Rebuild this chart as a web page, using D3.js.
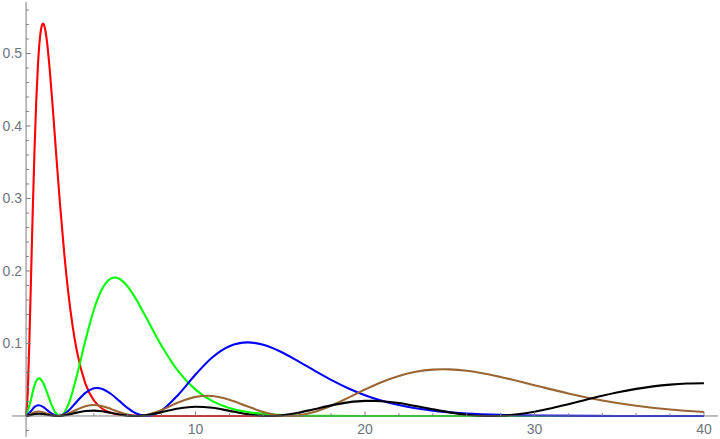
<!DOCTYPE html>
<html><head><meta charset="utf-8">
<script src="https://cdn.jsdelivr.net/npm/d3@7"></script>
<style>body{margin:0;background:#fff}svg{display:block}</style>
</head><body>
<svg id="c" width="720" height="439"></svg>
<script>
// Series (radius r, probability density P)
const redR = [0,0.1,0.2,0.3,0.4,0.5,0.6,0.7,0.8,0.9,1.0,1.1,1.2,1.4,1.6,1.8,2.0,2.25,2.5,2.75,3,3.5,4,4.5,5,6,7,8,10,20,30,40];
const redP = [0,0.0327,0.1073,0.1976,0.2876,0.3679,0.4337,0.4833,0.5168,0.5356,0.5413,0.5363,0.5225,0.4767,0.4174,0.3541,0.2931,0.2250,0.1684,0.1236,0.0892,0.0447,0.0215,0.0100,0.00454,0.00088,0.00016,0.00003,0,0,0,0];

const greenR = [0,0.25,0.5,0.764,1,1.25,1.5,1.75,2,2.5,3,3.5,4,4.5,5,5.236,5.5,6,6.5,7,8,9,10,11,12,13,14,16,18,20,30,40];
const greenP = [0,0.01864,0.04265,0.05193,0.04599,0.03148,0.01569,0.00416,0,0.01603,0.05601,0.10404,0.14653,0.17575,0.1895,0.19098,0.1893,0.17847,0.16078,0.13963,0.09661,0.06123,0.03632,0.02046,0.01106,0.00578,0.00293,0.00071,0.00016,0.00003,0,0];

const blueR = [0,0.25,0.5,0.74,1,1.25,1.5,1.75,1.902,2,2.5,3,3.5,4,4.19,4.5,5,5.5,6,6.5,7.098,7.5,8,9,10,11,12,13.07,14,15,16,17,18,19,20,22,24,26,28,30,35,40];
const blueP = [0,0.005504,0.012459,0.014834,0.012625,0.008024,0.003406,0.000512,0,0.000214,0.007257,0.02005,0.031926,0.038181,0.038683,0.03734,0.03063,0.020781,0.010854,0.003409,0,0.00156,0.007598,0.029745,0.057129,0.080979,0.096215,0.10151,0.098219,0.08895,0.076398,0.062834,0.049842,0.038335,0.028712,0.015067,0.007351,0.003382,0.001483,0.000624,0.00006,0];

const brownR = [0,0.25,0.5,0.75,1,1.25,1.5,1.75,1.871,2,2.5,3,3.5,4,4.5,5,5.5,6,6.611,7,8,9,10,10.74,11,12,13,14,15,15.518,16,17,18,19,20,21,22,23,24,24.6,25,26,27,28,30,32,34,36,38,40];
const brownP = [0,0.002319,0.00523,0.006177,0.005184,0.003206,0.001277,0.000143,0,0.00016,0.003433,0.008856,0.013375,0.015037,0.01352,0.009773,0.005345,0.00175,0,0.000725,0.008141,0.018797,0.026393,0.02787,0.027467,0.022309,0.013802,0.005605,0.000686,0,0.000596,0.005412,0.014097,0.02502,0.036446,0.046881,0.05526,0.060993,0.063924,0.064399,0.064229,0.062301,0.058645,0.053788,0.042374,0.031057,0.021463,0.014124,0.008917,0.005432];

const blackR = [0,0.25,0.5,0.75,1,1.25,1.5,1.75,1.86,2,2.5,3,3.5,4,4.5,5,5.5,6,6.43,7,8,9,10,11,12,13,14,14.3,15,16,17,18,19,20,20.5,21,22,23,24,25,26,27,27.37,28,29,30,31,32,33,34,35,36,37,38,39,40];
const blackP = [0,0.001187,0.002672,0.003144,0.002621,0.0016,0.000618,0.000059,0,0.000101,0.001844,0.004618,0.006805,0.007428,0.006405,0.004331,0.002086,0.000476,0,0.000834,0.005322,0.010426,0.012764,0.011232,0.007067,0.002655,0.000172,0,0.000714,0.004113,0.009251,0.014594,0.018746,0.020782,0.020868,0.020353,0.01788,0.013671,0.009216,0.004943,0.00174,0.000138,0,0.000289,0.002368,0.005953,0.010737,0.016271,0.022091,0.027775,0.032962,0.037383,0.040858,0.0433,0.044694,0.045094];

const seriesNames = ["red","green","blue","brown","black"];
const seriesColors = ["#ff0000","#00ff00","#0000ff","#996633","#000000"];
const seriesR = [redR, greenR, blueR, brownR, blackR];
const seriesP = [redP, greenP, blueP, brownP, blackP];

const xTickLabels = [10,20,30,40];
const yTickLabels = [0.1,0.2,0.3,0.4,0.5];

const svg = d3.select("#c");
const x = d3.scaleLinear().domain([-0.83, 40.83]).range([12, 718]);
const y = d3.scaleLinear().domain([-0.029, 0.571]).range([437, 2]);
const axisColor = "#7d7d7d";
const labelColor = "#6f7480";
const font = "'Liberation Sans', Arial, sans-serif";

// curves
const line = d3.line().x(d => x(d[0])).y(d => y(d[1])).curve(d3.curveMonotoneX);
const gLines = svg.append("g");
seriesNames.forEach((n, i) => {
  const pts = seriesR[i].map((r, j) => [r, seriesP[i][j]]);
  gLines.append("path").attr("d", line(pts)).attr("fill", "none")
    .attr("stroke", seriesColors[i]).attr("stroke-width", 2.1)
    .attr("stroke-linejoin", "round");
});

// axes
const ax = svg.append("g");
ax.append("line").attr("x1", 12).attr("x2", 718).attr("y1", y(0)).attr("y2", y(0))
  .attr("stroke", axisColor).attr("stroke-width", 1);
ax.append("line").attr("x1", x(0)).attr("x2", x(0)).attr("y1", 2).attr("y2", 437)
  .attr("stroke", axisColor).attr("stroke-width", 1);

// x ticks
const xMinor = d3.range(2, 41, 2);
xMinor.forEach(v => {
  const major = v % 10 === 0;
  ax.append("line").attr("x1", x(v)).attr("x2", x(v))
    .attr("y1", y(0)).attr("y2", y(0) - (major ? 4.5 : 2.8))
    .attr("stroke", axisColor).attr("stroke-width", 1);
});
xTickLabels.forEach(v => {
  ax.append("text").attr("x", x(v)).attr("y", y(0) + 18)
    .attr("text-anchor", "middle").attr("fill", labelColor)
    .attr("font-family", font).attr("font-size", 14).text(v);
});
// y ticks
const yMinor = d3.range(1, 29).map(k => k * 0.02).filter(v => v <= 0.57);
yMinor.forEach(v => {
  const major = Math.abs(v * 10 - Math.round(v * 10)) < 1e-6;
  ax.append("line").attr("x1", x(0)).attr("x2", x(0) + (major ? 4.5 : 2.8))
    .attr("y1", y(v)).attr("y2", y(v))
    .attr("stroke", axisColor).attr("stroke-width", 1);
});
ax.append("line").attr("x1", x(0)).attr("x2", x(0) + 2.8)
  .attr("y1", y(-0.02)).attr("y2", y(-0.02)).attr("stroke", axisColor);
yTickLabels.forEach(v => {
  ax.append("text").attr("x", x(0) - 4).attr("y", y(v) + 5)
    .attr("text-anchor", "end").attr("fill", labelColor)
    .attr("font-family", font).attr("font-size", 14).text(v.toFixed(1));
});
</script>
</body></html>
